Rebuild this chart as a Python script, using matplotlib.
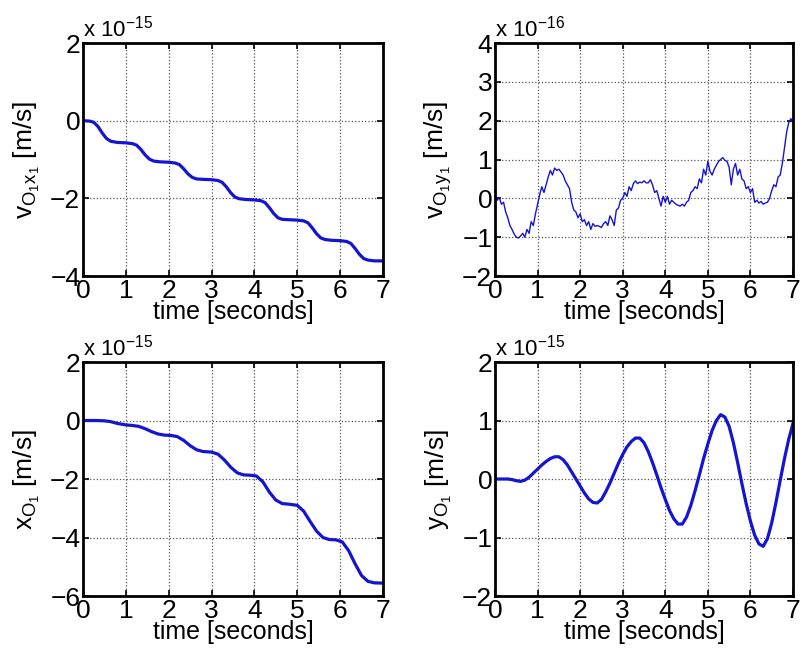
import numpy as np
import matplotlib
matplotlib.use('Agg')
import matplotlib.pyplot as plt

plt.rcParams['font.family'] = ['Liberation Sans', 'DejaVu Sans']
plt.rcParams['mathtext.fontset'] = 'custom'
plt.rcParams['mathtext.rm'] = 'Liberation Sans'
plt.rcParams['mathtext.it'] = 'Liberation Sans'

# velocidade v_O1x1 (x 1e-15)
t_vx = [0, 0.15, 0.25, 0.35, 0.45, 0.55, 0.65, 0.8, 1.0,
        1.15, 1.25, 1.35, 1.45, 1.55, 1.65, 1.8, 2.0,
        2.15, 2.25, 2.35, 2.45, 2.55, 2.65, 2.8, 3.0,
        3.15, 3.25, 3.35, 3.45, 3.55, 3.65, 3.8, 4.0,
        4.15, 4.25, 4.35, 4.45, 4.55, 4.65, 4.8, 5.0,
        5.15, 5.25, 5.35, 5.45, 5.55, 5.65, 5.8, 6.0,
        6.15, 6.25, 6.35, 6.45, 6.55, 6.65, 6.8, 7.0]
vx = [0, -0.01, -0.04, -0.15, -0.32, -0.46, -0.53, -0.56, -0.57,
      -0.59, -0.63, -0.74, -0.88, -0.99, -1.04, -1.06, -1.07,
      -1.09, -1.13, -1.24, -1.37, -1.46, -1.5, -1.51, -1.52,
      -1.54, -1.59, -1.71, -1.86, -1.97, -2.01, -2.03, -2.04,
      -2.06, -2.11, -2.24, -2.39, -2.5, -2.54, -2.55, -2.56,
      -2.58, -2.63, -2.76, -2.91, -3.02, -3.06, -3.08, -3.09,
      -3.11, -3.16, -3.29, -3.44, -3.55, -3.59, -3.61, -3.61]

# velocidade v_O1y1 (x 1e-16), sinal ruidoso
t_vy = [0, 0.05, 0.1, 0.15, 0.2, 0.25, 0.3, 0.35, 0.4, 0.45, 0.5, 0.55, 0.6, 0.65, 0.7,
        0.75, 0.8, 0.85, 0.9, 0.95, 1.0, 1.05, 1.1, 1.15, 1.2, 1.25, 1.3, 1.35, 1.4, 1.45,
        1.5, 1.55, 1.6, 1.65, 1.7, 1.75, 1.8, 1.85, 1.9, 1.95, 2.0, 2.05, 2.1, 2.15, 2.2,
        2.25, 2.3, 2.35, 2.4, 2.45, 2.5, 2.55, 2.6, 2.65, 2.7, 2.75, 2.8, 2.85, 2.9, 2.95,
        3.0, 3.05, 3.1, 3.15, 3.2, 3.25, 3.3, 3.35, 3.4, 3.45, 3.5, 3.55, 3.6, 3.65, 3.7,
        3.75, 3.8, 3.85, 3.9, 3.95, 4.0, 4.05, 4.1, 4.15, 4.2, 4.25, 4.3, 4.35, 4.4, 4.45,
        4.5, 4.55, 4.6, 4.65, 4.7, 4.75, 4.8, 4.85, 4.9, 4.95, 5.0, 5.05, 5.1, 5.15, 5.2,
        5.25, 5.3, 5.35, 5.4, 5.45, 5.5, 5.55, 5.6, 5.65, 5.7, 5.75, 5.8, 5.85, 5.9, 5.95,
        6.0, 6.05, 6.1, 6.15, 6.2, 6.25, 6.3, 6.35, 6.4, 6.45, 6.5, 6.55, 6.6, 6.65, 6.7,
        6.75, 6.8, 6.85, 6.9, 6.95, 7.0]
vy = [0.05, -0.05, 0.02, -0.15, -0.1, -0.35, -0.5, -0.7, -0.8, -0.92, -1.0, -1.02, -0.97,
      -0.9, -1.0, -0.8, -0.9, -0.6, -0.7, -0.4, -0.15, 0.1, 0.3, 0.15, 0.35, 0.55, 0.72,
      0.6, 0.78, 0.72, 0.75, 0.68, 0.6, 0.45, 0.35, 0.25, -0.1, -0.3, -0.35, -0.5, -0.4,
      -0.6, -0.55, -0.7, -0.6, -0.8, -0.65, -0.72, -0.7, -0.72, -0.75, -0.65, -0.6, -0.7,
      -0.45, -0.55, -0.7, -0.3, -0.25, -0.05, 0.0, 0.15, 0.05, 0.3, 0.2, 0.38, 0.45, 0.38,
      0.42, 0.4, 0.45, 0.4, 0.4, 0.48, 0.35, 0.15, 0.2, 0.0, -0.2, 0.05, -0.1, 0.05, -0.15,
      -0.05, -0.1, -0.15, -0.18, -0.2, -0.15, -0.2, -0.1, -0.05, 0.15, 0.2, 0.3, 0.25, 0.5,
      0.4, 0.75, 0.6, 0.95, 0.7, 0.6, 0.75, 0.85, 0.95, 1.0, 1.05, 0.98, 0.95, 0.8, 0.35,
      0.75, 0.9, 0.6, 0.75, 0.5, 0.45, 0.25, 0.3, 0.15, 0.25, -0.1, -0.05, -0.12, -0.08,
      -0.15, -0.12, -0.1, 0.0, 0.2, 0.35, 0.3, 0.55, 0.6, 0.9, 1.3, 1.7, 1.95, 2.05, 2.0]

# posicao x_O1 (x 1e-15)
t_x = [0, 0.3, 0.5, 0.65, 0.8, 1.0, 1.15, 1.3, 1.45, 1.6, 1.75, 1.9, 2.05, 2.2, 2.35,
       2.5, 2.65, 2.8, 3.0, 3.15, 3.3, 3.45, 3.6, 3.75, 3.9, 4.05, 4.2, 4.35, 4.5, 4.65,
       4.8, 5.0, 5.15, 5.3, 5.45, 5.6, 5.75, 5.9, 6.05, 6.2, 6.35, 6.5, 6.65, 6.8, 7.0]
x_o = [0, 0, -0.01, -0.04, -0.1, -0.15, -0.17, -0.2, -0.28, -0.38, -0.46, -0.5, -0.51,
       -0.55, -0.68, -0.86, -1.0, -1.06, -1.08, -1.15, -1.35, -1.6, -1.79, -1.86, -1.87,
       -1.9, -2.1, -2.45, -2.72, -2.84, -2.86, -2.9, -3.1, -3.45, -3.78, -4.0, -4.07,
       -4.08, -4.15, -4.45, -4.9, -5.3, -5.5, -5.55, -5.56]

# posicao y_O1 (x 1e-15)
t_y = [0, 0.1, 0.2, 0.3, 0.4, 0.5, 0.6, 0.7, 0.8, 0.9, 1.0, 1.1, 1.2, 1.3, 1.4, 1.5,
       1.6, 1.7, 1.8, 1.9, 2.0, 2.1, 2.2, 2.3, 2.4, 2.5, 2.6, 2.7, 2.8, 2.9, 3.0, 3.1,
       3.2, 3.3, 3.4, 3.5, 3.6, 3.7, 3.8, 3.9, 4.0, 4.1, 4.2, 4.3, 4.4, 4.5, 4.6, 4.7,
       4.8, 4.9, 5.0, 5.1, 5.2, 5.3, 5.4, 5.5, 5.6, 5.7, 5.8, 5.9, 6.0, 6.1, 6.2, 6.3,
       6.4, 6.5, 6.6, 6.7, 6.8, 6.9, 7.0]
y_o = [0, 0, 0, 0, -0.01, -0.03, -0.04, -0.02, 0.03, 0.1, 0.17, 0.24, 0.3, 0.35, 0.38,
       0.38, 0.33, 0.24, 0.12, 0.0, -0.12, -0.24, -0.34, -0.4, -0.41, -0.35, -0.22,
       -0.07, 0.1, 0.27, 0.42, 0.55, 0.64, 0.7, 0.7, 0.62, 0.47, 0.28, 0.07, -0.15,
       -0.35, -0.54, -0.68, -0.77, -0.77, -0.65, -0.45, -0.2, 0.07, 0.35, 0.6, 0.83, 1.0,
       1.1, 1.06, 0.9, 0.62, 0.28, -0.08, -0.42, -0.72, -0.96, -1.11, -1.15, -1.02,
       -0.75, -0.4, -0.02, 0.35, 0.68, 0.95]

azul = '#1414d2'

paineis = [
    (t_vx, vx, (-4, 2), [-4, -2, 0, 2], '-15', r'$\mathregular{v_{O_1x_1}}$ [m/s]', 2.3),
    (t_vy, vy, (-2, 4), [-2, -1, 0, 1, 2, 3, 4], '-16', r'$\mathregular{v_{O_1y_1}}$ [m/s]', 1.0),
    (t_x, x_o, (-6, 2), [-6, -4, -2, 0, 2], '-15', r'$\mathregular{x_{O_1}}$ [m/s]', 2.3),
    (t_y, y_o, (-2, 2), [-2, -1, 0, 1, 2], '-15', r'$\mathregular{y_{O_1}}$ [m/s]', 2.3),
]

posicoes = [
    [0.1036, 0.5843, 0.3745, 0.3509],
    [0.618, 0.5843, 0.372, 0.3509],
    [0.1036, 0.1024, 0.3745, 0.3524],
    [0.618, 0.1024, 0.372, 0.3524],
]

fig = plt.figure(figsize=(8.01, 6.64), dpi=100)

for (t, v, ylim, yt, expo, ylab, lw), pos in zip(paineis, posicoes):
    ax = fig.add_axes(pos)
    ax.plot(t, v, color=azul, linewidth=lw, solid_joinstyle='round')
    ax.set_xlim(0, 7)
    ax.set_ylim(*ylim)
    ax.set_xticks(range(8))
    ax.set_yticks(yt)
    ax.grid(True, linestyle=':', color='#555555', linewidth=0.9)
    ax.tick_params(direction='in', labelsize=19, top=True, right=True,
                   length=4, width=1.2, pad=2)
    for s in ax.spines.values():
        s.set_linewidth(2)
    ax.set_xlabel('time [seconds]', fontsize=18, labelpad=-2)
    ax.set_ylabel(ylab, fontsize=19, labelpad=6)
    ax.text(0.0, 1.026, r'x 10$^{' + expo + '}$', transform=ax.transAxes,
            fontsize=16, ha='left', va='baseline')

fig.savefig('out.png', dpi=100)
